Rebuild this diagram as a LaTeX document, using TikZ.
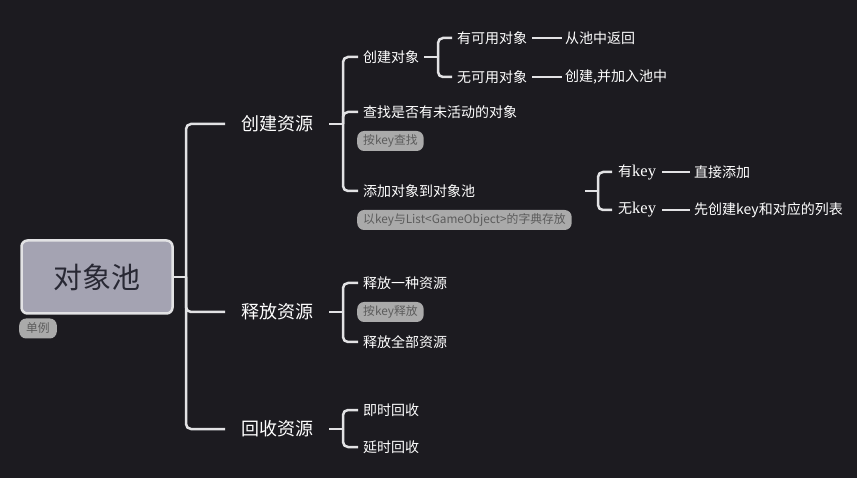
\documentclass[tikz,border=0pt]{standalone}
\usepackage{fontspec}
\setmainfont{Noto Sans CJK SC}
\newfontfamily\keyfont{Liberation Serif}
\usetikzlibrary{positioning}

\definecolor{bgdark}{RGB}{28,27,32}
\definecolor{linegray}{RGB}{226,226,228}
\definecolor{rootfill}{RGB}{164,163,178}
\definecolor{rootink}{RGB}{40,40,52}
\definecolor{taggray}{RGB}{170,170,170}
\definecolor{tagink}{RGB}{92,92,92}

\begin{document}
\begin{tikzpicture}[x=1pt,y=-1pt,
  link/.style={draw=linegray,line width=2.5pt,rounded corners=5pt},
  root/.style={fill=rootfill,draw=linegray,line width=2.5pt,rounded corners=6pt,minimum width=151pt,minimum height=73pt,text=rootink,font=\fontsize{29}{29}\selectfont},
  topic/.style={anchor=west,text=white,inner xsep=16pt,font=\fontsize{18}{18}\selectfont},
  sub/.style={anchor=west,text=white,inner xsep=5pt,font=\fontsize{14}{14}\selectfont},
  leaf/.style={anchor=west,text=white,inner xsep=3pt,font=\fontsize{14}{14}\selectfont},
  tag/.style={anchor=west,fill=taggray,text=tagink,rounded corners=7pt,inner xsep=6pt,inner ysep=0pt,minimum height=20pt,font=\fontsize{11.8}{12}\selectfont}]
  \fill[bgdark] (0,0) rectangle (857,478);
  \useasboundingbox (0,0) rectangle (857,478);

  \node[root] (pool) at (97,277) {对象池};
  \node[tag,anchor=center,inner xsep=7pt] (single) at (38,328.5) {单例};
  \coordinate (hub) at (186,277);

  \node[topic] (create) at (225,124) {创建资源};
  \node[topic] (release) at (225,312) {释放资源};
  \node[topic] (recycle) at (225,429) {回收资源};
  \draw[link] (pool.east) -- (hub);
  \draw[link] (hub) |- (create.west);
  \draw[link] (hub) |- (release.west);
  \draw[link] (hub) |- (recycle.west);

  % 创建资源
  \coordinate (createhub) at (343,124);
  \node[sub] (newobj) at (358,57) {创建对象};
  \node[sub] (find) at (358,112) {查找是否有未活动的对象};
  \node[tag] (findtag) at (357,141) {按key查找};
  \node[sub] (add) at (358,191) {添加对象到对象池};
  \node[tag] (addtag) at (357,220) {以key与List<GameObject>的字典存放};
  \draw[link] (create.east) -- (createhub);
  \draw[link] (createhub) |- (newobj.west);
  \draw[link] (createhub) |- (find.west);
  \draw[link] (createhub) |- (add.west);

  \coordinate (newhub) at (438,57);
  \node[sub] (avail) at (452,38) {有可用对象};
  \node[sub] (none) at (452,77) {无可用对象};
  \node[leaf] (giveback) at (562,38) {从池中返回};
  \node[leaf] (makenew) at (562,77) {创建,并加入池中};
  \draw[link] (newobj.east) -- (newhub);
  \draw[link] (newhub) |- (avail.west);
  \draw[link] (newhub) |- (none.west);
  \draw[link] (avail.east) -- (giveback.west);
  \draw[link] (none.east) -- (makenew.west);

  \coordinate (addout) at (585,191);
  \coordinate (addhub) at (598,191);
  \node[sub,inner xsep=6pt] (haskey) at (612,172) {有{\keyfont\fontsize{16.5}{16}\selectfont key}};
  \node[sub,inner xsep=6pt] (nokey) at (612,210) {无{\keyfont\fontsize{16.5}{16}\selectfont key}};
  \node[leaf,inner xsep=4pt] (direct) at (690,172) {直接添加};
  \node[leaf,inner xsep=4pt] (makelist) at (690,210) {先创建key和对应的列表};
  \draw[link] (addout) -- (addhub);
  \draw[link] (addhub) |- (haskey.west);
  \draw[link] (addhub) |- (nokey.west);
  \draw[link] (haskey.east) -- (direct.west);
  \draw[link] (nokey.east) -- (makelist.west);

  % 释放资源
  \coordinate (releasehub) at (343,312);
  \node[sub] (freeone) at (358,283) {释放一种资源};
  \node[tag] (freetag) at (357,312) {按key释放};
  \node[sub] (freeall) at (358,342) {释放全部资源};
  \draw[link] (release.east) -- (releasehub);
  \draw[link] (releasehub) |- (freeone.west);
  \draw[link] (releasehub) |- (freeall.west);

  % 回收资源
  \coordinate (recyclehub) at (343,429);
  \node[sub] (atonce) at (358,410) {即时回收};
  \node[sub] (delayed) at (358,447) {延时回收};
  \draw[link] (recycle.east) -- (recyclehub);
  \draw[link] (recyclehub) |- (atonce.west);
  \draw[link] (recyclehub) |- (delayed.west);
\end{tikzpicture}
\end{document}
